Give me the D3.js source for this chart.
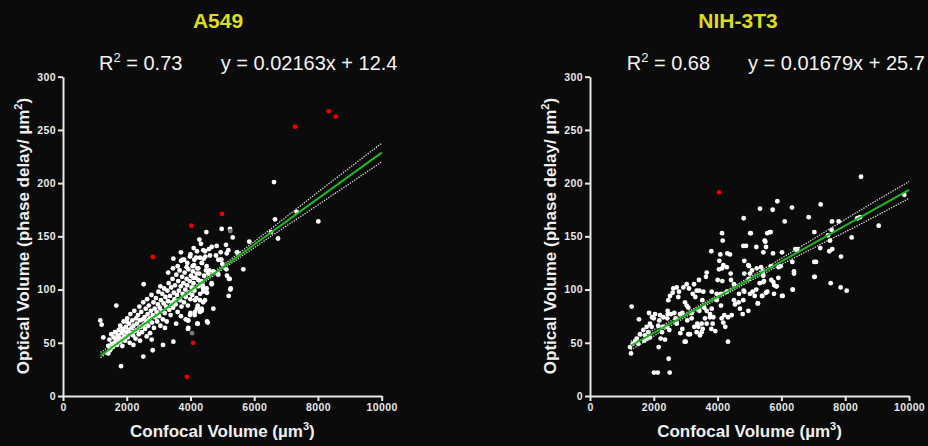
<!DOCTYPE html>
<html>
<head>
<meta charset="utf-8">
<script src="https://cdn.jsdelivr.net/npm/d3@7"></script>
<style>
body { margin:0; background:#0a0b0a; }
text { font-family:"Liberation Sans", Arial, sans-serif; }
</style>
</head>
<body>
<div id="canvas"></div>
<script>

// A549 cells: [confocal volume, optical volume]
var a549White = [
[6621,201],[6652,166],[8011,164],[6746,148],[6527,154],[7330,173],[5846,145],[5658,119],[5262,101],[5199,94],
[5230,110],[4717,82],[4540,69],[5470,135],[5324,149],[5240,157],[4979,157],[4498,154],[1820,28],[2520,37],
[1171,71],[1213,67],[1265,55],[1673,85],[2531,105],[3054,103],[3462,129],[3703,127],[3138,48],[2814,43],
[3462,51],[3922,63],[4215,68],[4518,70],[4132,76],[4351,80],[4226,85],[3922,71],[4822,141],[5114,142],
[5136,134],[4948,135],[4666,140],[4581,138],[4403,137],[4801,132],[4414,129],[4278,147],[4330,143],[4205,136],
[4173,130],[5125,119],[4968,128],[5146,113],[4853,115],[4508,122],[4666,105],[4518,97],[4382,104],[4069,122],
[3880,121],[3797,128],[3985,131],[4299,130],[4466,131],[4110,123],[4246,120],[1998,70],[3200,64],[2783,53],
[2626,56],[2207,48],[2416,52],[1475,43],[1421,40],[1632,48],[1789,51],[1632,60],[1737,56],[1892,62],
[5188,137],[5000,124],[4874,128],[4958,128],[4121,128],[4592,118],[4560,115],[4351,125],[4195,115],[4247,109],
[4090,111],[4717,117],[4874,114],[4665,106],[4508,101],[4403,98],[4299,104],[4299,90],[4142,90],[4247,82],
[4142,79],[3985,76],[4299,79],[4351,82],[4226,68],[3932,64],[3932,71],[4613,132],[4456,136],[5460,135],
[5251,100],[5209,110],
[1420,47],[1455,53],[1480,44],[1515,58],[1530,49],[1565,46],[1590,55],[1612,50],[1645,60],[1660,53],
[1702,48],[1725,57],[1748,62],[1774,51],[1795,66],[1808,54],[1843,59],[1862,47],[1884,63],[1903,70],
[1925,56],[1948,52],[1972,65],[1993,60],[2014,73],[2031,55],[2056,62],[2072,68],[2093,50],[2115,77],
[2134,59],[2152,64],[2175,71],[2196,57],[2213,66],[2238,80],[2254,61],[2276,54],[2293,73],[2318,68],
[2334,62],[2352,76],[2377,58],[2396,84],[2414,71],[2437,65],[2455,79],[2476,60],[2493,72],[2517,88],
[2535,67],[2558,74],[2574,63],[2596,82],[2613,70],[2638,91],[2655,77],[2676,66],[2694,85],[2718,73],
[2733,59],[2757,80],[2775,95],[2796,69],[2815,76],[2838,88],[2854,64],[2876,82],[2897,74],[2915,92],
[2936,79],[2955,70],[2978,86],[2994,98],[3017,75],[3035,83],[3056,66],[3074,90],[3098,80],[3115,96],
[3136,72],[3157,87],[3174,101],[3193,78],[3216,93],[3237,84],[3255,70],[3278,99],[3294,89],[3318,106],
[3335,81],[3356,94],[3377,76],[3395,102],[3418,88],[3436,110],[3455,83],[3477,97],[3496,91],[3514,104],
[3537,86],[3556,114],[3575,95],[3597,79],[3616,108],[3635,99],[3658,118],[3676,90],[3695,103],[3717,84],
[3736,112],[3754,96],[3778,106],[3795,88],[3816,116],[3837,100],[3855,93],[3878,110],[3894,104],[3917,85],
[3936,119],[3955,97],[3977,108],[3996,91],[4014,113],[4037,102],[4055,95],[4076,117],[4094,106],[4124,99],
[4157,111],[4186,92],[4213,120],[4245,103],[4276,115],[4304,96],[4337,108],[4362,125],[4395,101],[4427,113],
[4455,90],[4486,118],[3600,122],[3750,128],[3900,125],[4000,133],[4100,139],[3300,116],[3450,120],[3700,135],
[3700,75],[3850,72],[4000,78],[4200,82],[4400,88],[3550,68]
]
var a549Red = [[8337,267.5],[8557,262.4],[7280,253],[4989,171],[4027,160],[2814,130.6],[4080,50],[3890,18]]
var a549Gray = [[5250,155],[4048,59]]

// NIH-3T3 cells
var nihWhite = [
[8495,206],[9850,189],[9050,160],[8203,149],[7231,180],[6855,168],[7032,154],[6103,164],[5872,183],[5727,175],
[5329,176],[6332,177],[4818,167],[5025,153],[5558,153],[5643,154],[4138,153],[4160,146],[3803,136],[4085,133],
[4304,134],[4389,133],[4054,127],[4806,141],[5213,140],[5496,145],[5517,140],[5433,135],[5737,134],[6019,135],
[6342,126],[6480,137],[7032,126],[7220,139],[7586,164],[7576,156],[7461,151],[7596,138],[7502,136],[7524,146],
[7795,164],[7868,131],[7545,106],[7858,102],[8046,99],[7032,112],[6353,100],[6395,117],[6395,115],[6019,94],
[5778,104],[5852,103],[5517,97],[5257,87],[5392,94],[5213,100],[5016,96],[5100,98],[4838,127],[4963,123],
[5413,117],[5683,109],[5455,108],[5978,122],[5904,111],[5747,107],[4818,99],[4975,110],[4420,109],[4514,105],
[4671,96],[4661,88],[4702,82],[4786,77],[4326,51],[4210,76],[4326,74],[4442,76],[4241,65],[4107,85],
[3971,90],[3815,98],[3971,96],[4107,96],[4285,98],[4147,108],[3928,61],[3803,63],[4138,120],[3658,116],
[3636,112],[4003,109],[4044,119],[3521,90],[3583,83],[3658,80],[3762,77],[3427,99],[3552,98],[3417,109],
[3344,99],[3219,96],[3301,93],[3103,101],[3260,105],[3031,105],[3427,80],[3605,73],[3500,68],[3531,63],
[3815,82],[3762,74],[3658,68],[3396,65],[3500,60],[3448,57],[3364,68],[3187,73],[3187,78],[3082,83],
[2978,88],[2894,78],[2925,102],[3050,71],[3135,58],[2831,59],[2894,63],[2768,93],[3031,85],[2686,73],
[2718,68],[2821,77],[2968,51],[2508,94],[2592,97],[2790,98],[2612,101],[2718,102],[2643,78],[2539,77],
[2435,77],[2298,74],[2423,73],[2455,90],[2435,80],[2194,76],[2173,71],[2278,65],[2141,66],[2038,77],
[1997,73],[1881,68],[1933,65],[1777,65],[1828,60],[1724,57],[1671,62],[1881,55],[1567,58],[1464,54],
[1411,51],[1514,49],[1339,49],[1254,46],[1285,40],[1307,84],[1536,72],[1702,52],[1796,54],[1850,78],
[1944,74],[2006,22],[2122,22],[2498,22],[2466,35],[2153,46],[2257,60],[2216,54],[2351,53],[2404,65],
[2486,62],[2999,51],[3082,58],[3270,65],[3344,60],[3866,74],[3845,68],[4128,73],[4179,69],[4514,90],
[4545,86],[4806,90],[4963,80],[4410,115],[4179,123],[4285,121],[8380,167],[8464,168],[5038,153],[5665,154],
[5476,146],[4890,141],[6436,138],[6498,138],[7085,126],[4984,122],[5078,118],[5225,120],[5361,121],[5674,122],
[5915,121],[7044,112],[4838,115],[5016,115],[5433,113],[5320,106],[5841,103],[5433,107],[4838,98],[5768,96],
[6040,94],[6354,100],[5401,94],[5558,98],[5163,94],[5266,87]
]
var nihRed = [[4044,191.4]]
var nihGray = []

// regression results
var a549Fit = {slope:0.02163, icpt:12.4, r2:'0.73', xmin:1180}
var nihFit = {slope:0.01679, icpt:25.7, r2:'0.68', xmin:1285}

// 95% confidence band
var a549BandX = [1180, 2500, 3500, 5000, 6500, 8000, 10000]
var a549Upper = [41, 67.8, 89.1, 122.5, 156.5, 191.5, 237.5]
var a549Lower = [36, 65.2, 87.1, 118.8, 149.5, 179.5, 220]
var nihBandX = [1285, 2500, 4000, 5500, 7000, 8500, 10000]
var nihUpper = [51.5, 70, 94.5, 120.3, 147.5, 175, 201.5]
var nihLower = [43.2, 65.4, 91.3, 115.7, 139, 161.8, 185.7]

var xTicks = [0, 2000, 4000, 6000, 8000, 10000]
var yTicks = [0, 50, 100, 150, 200, 250, 300]

var W = 928, H = 446

let Svg = d3.select('#canvas')
    .append('svg')
    .attr('width', W)
    .attr('height', H)
    .style('background', '#0a0b0a')

function panel(p) {
    let xScale = d3.scaleLinear().domain([0, 10000]).range([p.x0, p.x1])
    let yScale = d3.scaleLinear().domain([0, 300]).range([396, 76.7])
    let g = Svg.append('g')

    // title + stats
    g.append('text')
        .attr('x', p.titleX).attr('y', 28)
        .attr('text-anchor', 'middle')
        .style('font-size', '21px').style('font-weight', 'bold')
        .style('fill', '#dcdc1e')
        .text(p.title)

    let r = g.append('text')
        .attr('x', p.r2X).attr('y', 70)
        .style('font-size', '20px').style('fill', '#f2f2f2')
    r.append('tspan').text('R')
    r.append('tspan').attr('dy', -8).style('font-size', '13px').text('2')
    r.append('tspan').attr('dy', 8).text(' = ' + p.fit.r2)

    g.append('text')
        .attr('x', p.eqX).attr('y', 70)
        .style('font-size', '20px').style('fill', '#f2f2f2')
        .text('y = ' + p.fit.slope + 'x + ' + p.fit.icpt)

    // axes
    let xAxis = d3.axisBottom(xScale).tickValues(xTicks).tickFormat(d3.format('d'))
        .tickSize(5).tickSizeOuter(0).tickPadding(3)
    let yAxis = d3.axisLeft(yScale).tickValues(yTicks).tickFormat(d3.format('d'))
        .tickSize(5).tickSizeOuter(0).tickPadding(2)

    let ax = g.append('g').attr('transform', 'translate(0,396)').call(xAxis)
    let ay = g.append('g').attr('transform', 'translate(' + p.x0 + ',0)').call(yAxis)
    ;[ax, ay].forEach(function(a) {
        a.select('.domain').attr('stroke', '#e8e8e8').attr('stroke-width', 2)
        a.selectAll('.tick line').attr('stroke', '#e8e8e8').attr('stroke-width', 2)
        a.selectAll('.tick text')
            .style('font-family', '"Liberation Sans", Arial, sans-serif')
            .style('font-size', '10.5px').style('font-weight', 'bold')
            .style('letter-spacing', '0.4px')
            .style('fill', '#e8e8e8')
    })

    // axis titles
    let xl = g.append('text')
        .attr('x', (p.x0 + p.x1) / 2).attr('y', 437)
        .attr('text-anchor', 'middle')
        .style('font-size', '17px').style('font-weight', 'bold').style('fill', '#f0f0f0')
    xl.append('tspan').text('Confocal Volume (µm')
    xl.append('tspan').attr('dy', -7).style('font-size', '11px').text('3')
    xl.append('tspan').attr('dy', 7).text(')')

    let yl = g.append('text')
        .attr('transform', 'translate(' + (p.x0 - 34) + ',236) rotate(-90)')
        .attr('text-anchor', 'middle')
        .style('font-size', '17px').style('font-weight', 'bold').style('fill', '#f0f0f0')
    yl.append('tspan').text('Optical Volume (phase delay/ µm')
    yl.append('tspan').attr('dy', -7).style('font-size', '11px').text('2')
    yl.append('tspan').attr('dy', 7).text(')')

    // points
    g.selectAll('.pw').data(p.white).enter().append('circle')
        .attr('cx', d => xScale(d[0])).attr('cy', d => yScale(d[1]))
        .attr('r', 2.4).style('fill', '#ffffff')
    g.selectAll('.pg').data(p.gray).enter().append('circle')
        .attr('cx', d => xScale(d[0])).attr('cy', d => yScale(d[1]))
        .attr('r', 2.4).style('fill', '#7a7a7a')
    g.selectAll('.pr').data(p.red).enter().append('circle')
        .attr('cx', d => xScale(d[0])).attr('cy', d => yScale(d[1]))
        .attr('r', 2.4).style('fill', '#ee0000')

    // confidence band
    let band = d3.line().curve(d3.curveMonotoneX)
        .x(d => xScale(d[0])).y(d => yScale(d[1]))
    ;[p.upper, p.lower].forEach(function(arr) {
        g.append('path')
            .attr('d', band(p.bandX.map((x, i) => [x, arr[i]])))
            .attr('fill', 'none').attr('stroke', '#e0e0e0')
            .attr('stroke-width', 1.3).attr('stroke-dasharray', '1.3,1.3')
    })

    // fit line
    let f = p.fit
    g.append('line')
        .attr('x1', xScale(f.xmin)).attr('y1', yScale(f.slope * f.xmin + f.icpt))
        .attr('x2', xScale(10000)).attr('y2', yScale(f.slope * 10000 + f.icpt))
        .attr('stroke', '#1fb81f').attr('stroke-width', 2)
}

panel({title:'A549', titleX:218, r2X:99, eqX:220.7, x0:63, x1:381.7,
    white:a549White, red:a549Red, gray:a549Gray, fit:a549Fit,
    bandX:a549BandX, upper:a549Upper, lower:a549Lower})
panel({title:'NIH-3T3', titleX:738, r2X:626.7, eqX:748, x0:590, x1:909,
    white:nihWhite, red:nihRed, gray:nihGray, fit:nihFit,
    bandX:nihBandX, upper:nihUpper, lower:nihLower})

</script>
</body>
</html>
